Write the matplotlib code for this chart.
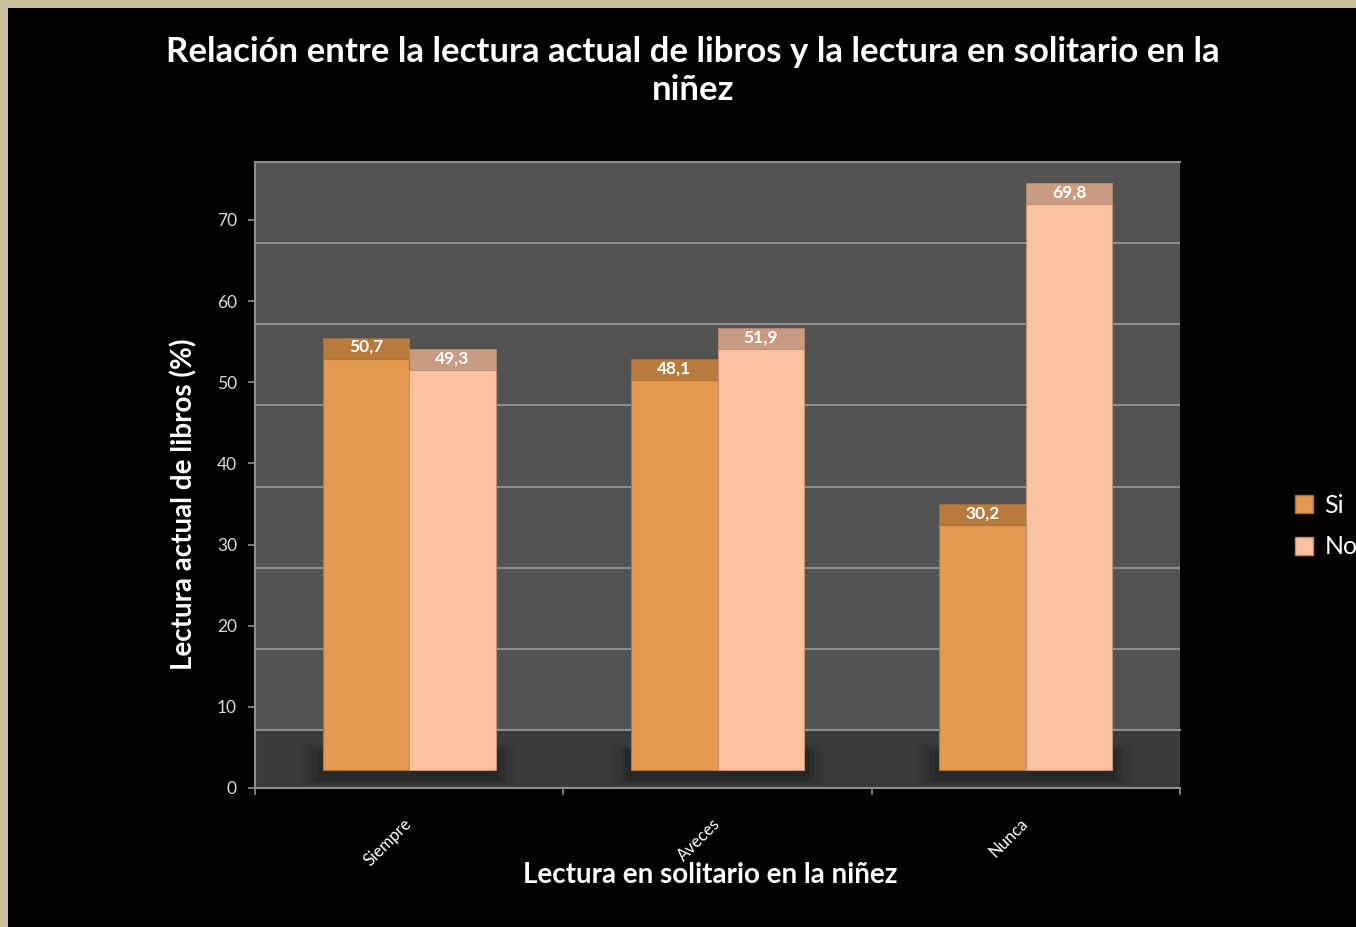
import matplotlib.pyplot as plt
from matplotlib.patches import Rectangle, Patch

categories = ["Siempre", "Aveces", "Nunca"]
si_values = [50.7, 48.1, 30.2]
no_values = [49.3, 51.9, 69.8]
value_labels_si = ["50,7", "48,1", "30,2"]
value_labels_no = ["49,3", "51,9", "69,8"]
y_ticks = [0, 10, 20, 30, 40, 50, 60, 70]

W, H = 1356, 927
SI_FRONT, SI_TOP = "#e3994f", "#b97a3d"
NO_FRONT, NO_TOP = "#fbc2a1", "#c99b83"
WALL, FLOOR, GRID = "#525252", "#3b3b3b", "#8e8e8e"
FONT = "Lato"

plt.rcParams["font.family"] = [FONT, "DejaVu Sans"]

fig = plt.figure(figsize=(W / 100, H / 100), dpi=100)
fig.patch.set_facecolor("#cbbf9c")
fig.patches.append(Rectangle((8 / W, 0), 1, 1 - 8 / H, transform=fig.transFigure,
                             facecolor="black", edgecolor="none", zorder=-5))


def rect(left, top, bottom):
    # pixel box -> figure fraction
    return [left / W, 1 - bottom / H, 925 / W, 568 / H]


# front axes: ticks, floor
ax = fig.add_axes(rect(255, 220, 788))
ax.set_facecolor(FLOOR)
ax.set_xlim(-0.5, 2.5)
ax.set_ylim(0, 70)
ax.set_yticks(y_ticks)
ax.tick_params(axis="y", colors=GRID, labelcolor="#d9d9d9", labelsize=12.5, length=5, width=1.2, pad=8)
ax.set_xticks(range(len(categories)))
ax.set_xticklabels(categories, rotation=45, ha="right", va="center",
                   rotation_mode="anchor", color="white", fontsize=12)
ax.tick_params(axis="x", which="major", length=0, pad=24)
ax.set_xticks([-0.5, 0.5, 1.5, 2.5], minor=True)
ax.tick_params(axis="x", which="minor", length=5, width=1.2, colors=GRID)
for s in ["top", "right"]:
    ax.spines[s].set_visible(False)
for s in ["left", "bottom"]:
    ax.spines[s].set_color(GRID)
    ax.spines[s].set_linewidth(1.5)
ax.set_ylabel("Lectura actual de libros (%)", color="white", fontsize=20,
              fontweight="bold", labelpad=14)
ax.set_xlabel("Lectura en solitario en la niñez", color="white", fontsize=20,
              fontweight="bold")
ax.xaxis.set_label_coords(0.492, -0.13)

# back wall with gridlines
wall = fig.add_axes(rect(255, 162, 730))
wall.set_facecolor(WALL)
wall.set_xlim(-0.5, 2.5)
wall.set_ylim(0, 70)
wall.set_yticks(y_ticks)
wall.set_xticks([])
wall.tick_params(axis="y", length=0, labelleft=False)
wall.grid(axis="y", color=GRID, linewidth=1.5)
for s in wall.spines.values():
    s.set_color(GRID)
    s.set_linewidth(1.5)
wall.spines["right"].set_visible(False)

# bars layer
bx = fig.add_axes(rect(255, 202, 770))
bx.set_xlim(-0.5, 2.5)
bx.set_ylim(0, 70)
bx.axis("off")
bx.patch.set_alpha(0)

x = range(len(categories))
width = 0.28
xs_si = [i - width / 2 for i in x]
xs_no = [i + width / 2 for i in x]
TOP = 2.6

# soft shadows under the bar groups
for k, a in enumerate([0.10, 0.15, 0.25, 0.35]):
    grow = 0.07 - k * 0.018
    bx.bar(list(x), [5.2 - k * 0.5] * 3, width=2 * width + 2 * grow,
           bottom=[-2.0 + k * 0.25] * 3, color="#1e1e1e", alpha=a, zorder=1, clip_on=False)

bx.bar(xs_si, si_values, width=width, color=SI_FRONT, edgecolor="#b0743a",
       linewidth=0.8, zorder=3, clip_on=False)
bx.bar(xs_no, no_values, width=width, color=NO_FRONT, edgecolor="#c8906f",
       linewidth=0.8, zorder=3, clip_on=False)
bx.bar(xs_si, [TOP] * 3, bottom=si_values, width=width, color=SI_TOP,
       edgecolor="#a86d35", linewidth=0.6, zorder=2, clip_on=False)
bx.bar(xs_no, [TOP] * 3, bottom=no_values, width=width, color=NO_TOP,
       edgecolor="#b88a74", linewidth=0.6, zorder=2, clip_on=False)

for xi, v, lab in zip(xs_si, si_values, value_labels_si):
    bx.text(xi, v + TOP * 0.55, lab, ha="center", va="center", color="white",
            fontsize=12.5, fontweight="bold", zorder=5)
for xi, v, lab in zip(xs_no, no_values, value_labels_no):
    bx.text(xi, v + TOP * 0.55, lab, ha="center", va="center", color="white",
            fontsize=12.5, fontweight="bold", zorder=5)

fig.text(693 / W, 1 - 71 / H,
         "Relación entre la lectura actual de libros y la lectura en solitario en la\nniñez",
         ha="center", va="center", color="white", fontsize=25, fontweight="bold",
         linespacing=1.22)

handles = [Patch(facecolor=SI_FRONT, edgecolor="#a86d35", label="Si"),
           Patch(facecolor=NO_FRONT, edgecolor="#b88a74", label="No")]
leg = fig.legend(handles=handles, loc="center left", bbox_to_anchor=(1272 / W, 1 - 526 / H),
                 frameon=False, fontsize=18, handlelength=0.75, handleheight=0.75,
                 handletextpad=0.45, labelspacing=0.75)
for t in leg.get_texts():
    t.set_color("white")

fig.savefig("out.png", dpi=100, facecolor=fig.get_facecolor())
